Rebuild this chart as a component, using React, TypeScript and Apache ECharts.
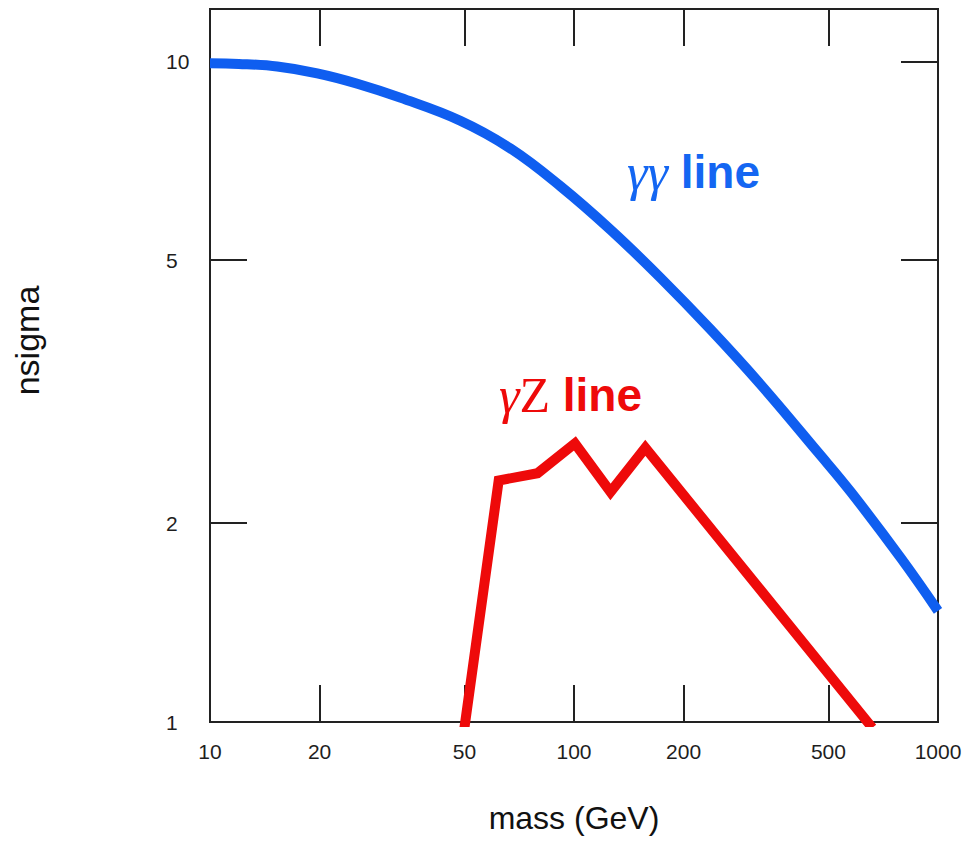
import React, { useEffect, useRef } from "react";
import * as echarts from "echarts";

// ---- data ----
const xTickValues = [10, 20, 50, 100, 200, 500, 1000];
const yTickValues = [1, 2, 5, 10];

const ggMass = [10, 12, 15.3, 19.7, 25.4, 33.3, 48.7, 66.9, 91.8, 126, 173, 237, 326, 468, 576, 791, 1000];
const ggSigma = [9.93, 9.91, 9.82, 9.59, 9.25, 8.81, 8.13, 7.38, 6.47, 5.56, 4.7, 3.93, 3.24, 2.56, 2.23, 1.77, 1.473];

const gzMass = [50, 62.1, 79.4, 100.6, 126, 157, 660];
const gzSigma = [0.98, 2.32, 2.38, 2.64, 2.23, 2.6, 0.98];

const xTitle = "mass (GeV)";
const yTitle = "nsigma";

const BLUE = "#0F5EF0";
const RED = "#EE0A0A";
const AXIS = "#222222";
const LABEL_FONT = "'Liberation Sans', Arial, sans-serif";
const TITLE_FONT = "'Liberation Sans', Arial, sans-serif";
const SERIF = "'Liberation Serif', 'DejaVu Serif', serif";

export default function App() {
  const ref = useRef<HTMLDivElement>(null);

  useEffect(() => {
    if (!ref.current) return;
    const chart = echarts.init(ref.current, undefined, { renderer: "svg" });

    const tickStyle = { show: true, inside: true, length: 37, lineStyle: { color: AXIS, width: 2 } };

    const option: any = {
      animation: false,
      backgroundColor: "#ffffff",
      grid: {
        left: 210,
        right: 34,
        top: 9,
        bottom: 121,
        show: true,
        borderColor: AXIS,
        borderWidth: 2,
        backgroundColor: "transparent",
      },
      xAxis: [
        {
          type: "log",
          logBase: 10,
          min: 10,
          max: 1000,
          position: "bottom",
          axisLine: { show: false },
          splitLine: { show: false },
          minorTick: { show: false },
          axisTick: { ...tickStyle, customValues: xTickValues },
          axisLabel: {
            customValues: xTickValues,
            margin: 19,
            fontSize: 21,
            color: "#1e1e1e",
            fontFamily: LABEL_FONT,
            formatter: (v: number) => String(Math.round(v)),
          },
          name: xTitle,
          nameLocation: "middle",
          nameGap: 80,
          nameTextStyle: { fontSize: 32, color: "#111", fontFamily: TITLE_FONT },
        },
        {
          type: "log",
          logBase: 10,
          min: 10,
          max: 1000,
          position: "top",
          axisLine: { show: false },
          splitLine: { show: false },
          axisTick: { ...tickStyle, customValues: xTickValues },
          axisLabel: { show: false },
        },
      ],
      yAxis: [
        {
          type: "log",
          logBase: 10,
          min: 1,
          max: 12,
          position: "left",
          axisLine: { show: false },
          splitLine: { show: false },
          minorTick: { show: false },
          axisTick: { ...tickStyle, customValues: yTickValues },
          axisLabel: {
            customValues: yTickValues,
            margin: 44,
            align: "left",
            fontSize: 21,
            color: "#1e1e1e",
            fontFamily: LABEL_FONT,
            formatter: (v: number) => String(Math.round(v)),
          },
          name: yTitle,
          nameLocation: "middle",
          nameGap: 166,
          nameRotate: 90,
          nameTextStyle: { fontSize: 34, color: "#111", fontFamily: TITLE_FONT, padding: [0, 0, 0, 50] },
        },
        {
          type: "log",
          logBase: 10,
          min: 1,
          max: 12,
          position: "right",
          axisLine: { show: false },
          splitLine: { show: false },
          axisTick: { ...tickStyle, customValues: yTickValues },
          axisLabel: { show: false },
        },
      ],
      series: [
        {
          name: "γγ line",
          type: "line",
          xAxisIndex: 0,
          yAxisIndex: 0,
          data: ggMass.map((m, i) => [m, ggSigma[i]]),
          showSymbol: false,
          smooth: 0.4,
          clip: true,
          lineStyle: { color: BLUE, width: 10, join: "round" },
        },
        {
          name: "γZ line",
          type: "line",
          xAxisIndex: 0,
          yAxisIndex: 0,
          data: gzMass.map((m, i) => [m, gzSigma[i]]),
          showSymbol: false,
          clip: true,
          lineStyle: { color: RED, width: 10, join: "miter" },
        },
      ],
      graphic: [
        {
          type: "text",
          x: 627,
          y: 172,
          style: {
            text: "{g|γγ}{t| line}",
            verticalAlign: "middle",
            align: "left",
            rich: {
              g: { fontSize: 52, fontFamily: SERIF, fontStyle: "italic", fill: "#1466F2" },
              t: { fontSize: 46, fontWeight: "bold", fontFamily: TITLE_FONT, fill: "#1466F2" },
            },
          },
        },
        {
          type: "text",
          x: 499,
          y: 395,
          style: {
            text: "{g|γ}{z|Z}{t| line}",
            verticalAlign: "middle",
            align: "left",
            rich: {
              g: { fontSize: 52, fontFamily: SERIF, fontStyle: "italic", fill: RED },
              z: { fontSize: 50, fontFamily: SERIF, fill: RED },
              t: { fontSize: 46, fontWeight: "bold", fontFamily: TITLE_FONT, fill: RED },
            },
          },
        },
      ],
    };

    chart.setOption(option);
    return () => chart.dispose();
  }, []);

  return (
    <div
      ref={ref}
      style={{ position: "absolute", left: 0, top: 0, width: 972, height: 843, background: "#fff" }}
    />
  );
}
